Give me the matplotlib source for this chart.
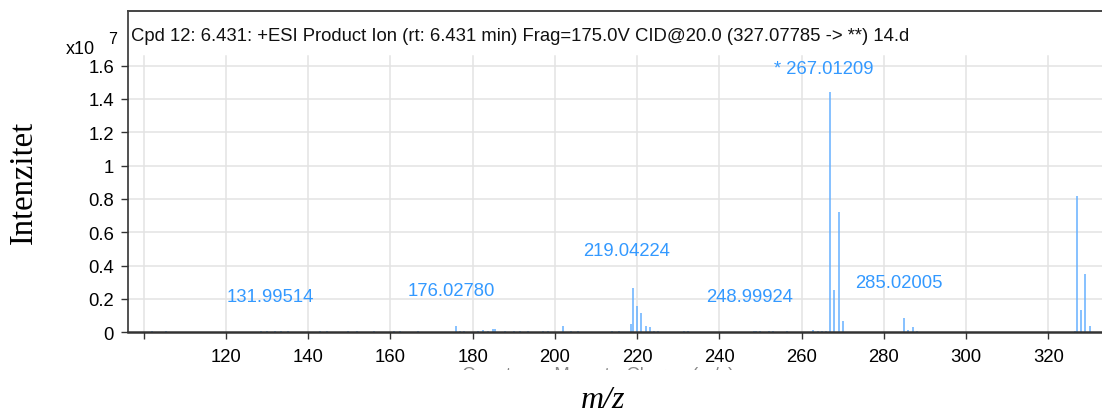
import numpy as np
import matplotlib
matplotlib.use('Agg')
import matplotlib.pyplot as plt
from matplotlib.transforms import Bbox

plt.rcParams['font.family'] = ['Liberation Sans', 'DejaVu Sans']

# spectrum data (m/z, intensity in units of 1e7 counts)
mz = [102.0, 103.5, 105.5, 107.0, 123.7, 128.5, 130.0, 131.99514, 133.5, 135.0,
      140.0, 143.0, 144.5, 146.5, 149.7, 152.0, 156.0, 157.7, 161.0, 162.3,
      163.5, 166.7, 170.8, 176.02780, 177.0, 178.0, 181.3, 182.5, 183.7, 184.9,
      185.4, 188.0, 190.0, 191.5, 193.5, 197.0, 198.3, 202.0, 204.0, 205.7,
      213.8, 215.7, 218.4, 219.04224, 220.0, 221.0, 222.1, 223.1, 224.2, 225.0,
      231.5, 232.5, 236.5, 248.5, 248.99924, 250.0, 252.2, 253.0, 256.5, 262.9,
      264.1, 265.0, 265.9, 267.01209, 268.0, 269.0, 270.0, 285.02005, 286.0, 287.0,
      288.0, 291.0, 309.0, 311.0, 326.6, 327.07785, 328.0, 329.0, 330.1]
intensity = [0.005, 0.004, 0.006, 0.004, 0.004, 0.006, 0.005, 0.008, 0.006, 0.005,
             0.004, 0.006, 0.005, 0.004, 0.006, 0.005, 0.006, 0.004, 0.007, 0.005,
             0.004, 0.005, 0.004, 0.040, 0.010, 0.008, 0.010, 0.012, 0.008, 0.020,
             0.018, 0.008, 0.007, 0.006, 0.005, 0.006, 0.005, 0.035, 0.008, 0.006,
             0.005, 0.005, 0.050, 0.265, 0.160, 0.116, 0.040, 0.030, 0.006, 0.005,
             0.008, 0.007, 0.004, 0.008, 0.009, 0.006, 0.005, 0.005, 0.005, 0.015,
             0.006, 0.005, 0.006, 1.440, 0.253, 0.720, 0.066, 0.084, 0.014, 0.032,
             0.006, 0.004, 0.004, 0.004, 0.005, 0.820, 0.134, 0.350, 0.040]

peak_labels = ['131.99514', '176.02780', '219.04224', '* 267.01209', '248.99924', '285.02005']
# where each label sits (m/z, intensity)
label_pos = [(130.7, 0.215), (174.9, 0.252), (217.4, 0.489), (265.4, 1.585),
             (247.4, 0.214), (283.6, 0.300)]

xticks = list(range(100, 340, 20))
yticks = [0, 0.2, 0.4, 0.6, 0.8, 1.0, 1.2, 1.4, 1.6]

title = 'Cpd 12: 6.431: +ESI Product Ion (rt: 6.431 min) Frag=175.0V CID@20.0 (327.07785 -> **) 14.d'

W, H = 1102, 414
fs = 13.3
fig = plt.figure(figsize=(W / 100, H / 100), dpi=100)
ax = fig.add_axes([128 / W, 80.7 / H, (W - 128) / W, 321.3 / H])
ax.set_xlim(96.2, 333.06)
ax.set_ylim(0, 1.927)

# grid
for t in xticks:
    ax.plot([t, t], [0, 1.66], color='#e3e3e3', lw=1.1, zorder=0)
for t in yticks[1:]:
    ax.axhline(t, color='#e3e3e3', lw=1.1, zorder=0)

ax.vlines(mz, 0, intensity, color='#66b0ff', lw=1.1, zorder=2)

for txt, (px, py) in zip(peak_labels, label_pos):
    ax.text(px, py, txt, color='#3399ff', fontsize=fs, ha='center', va='center')

ax.text(0.003, 0.925, title, transform=ax.transAxes, fontsize=fs,
        ha='left', va='center', color='#111111')

ax.spines['right'].set_visible(False)
ax.spines['bottom'].set_linewidth(1.8)
ax.spines['bottom'].set_color('#333333')
ax.spines['left'].set_linewidth(1.2)
ax.spines['left'].set_color('#333333')
ax.spines['top'].set_linewidth(1.4)
ax.spines['top'].set_color('#444444')

ax.set_xticks(xticks)
ax.set_xticklabels(['' if t == 100 else str(t) for t in xticks])
ax.set_yticks(yticks)
ax.set_yticklabels(['%g' % t for t in yticks])
ax.tick_params(axis='both', direction='out', length=5, width=1.0, color='#333333',
               labelsize=fs)
ax.tick_params(axis='x', pad=6.5)
ax.tick_params(axis='y', pad=5)

fig.text(66 / W, 1 - 49 / H, 'x10', fontsize=13, ha='left', va='center')
fig.text(108 / W, 1 - 40 / H, '7', fontsize=11.5, ha='left', va='center')

fig.text(24 / W, 1 - 182.5 / H, 'Intenzitet', family='Liberation Serif', fontsize=23.5,
         rotation=90, ha='center', va='center')
fig.text(603 / W, 1 - 401 / H, 'm/z', family='Liberation Serif', style='italic',
         fontsize=23, ha='center', va='center')

# x-axis title hidden behind the crop, only its top shows
hidden = fig.text(462 / W, 1 - 367 / H, 'Counts vs. Mass-to-Charge (m/z)', fontsize=fs,
                  ha='left', va='top', color='#888888')
hidden.set_clip_box(Bbox.from_extents(0, H - 371, W, H - 360))
hidden.set_clip_on(True)

fig.savefig('out.png', dpi=100)
